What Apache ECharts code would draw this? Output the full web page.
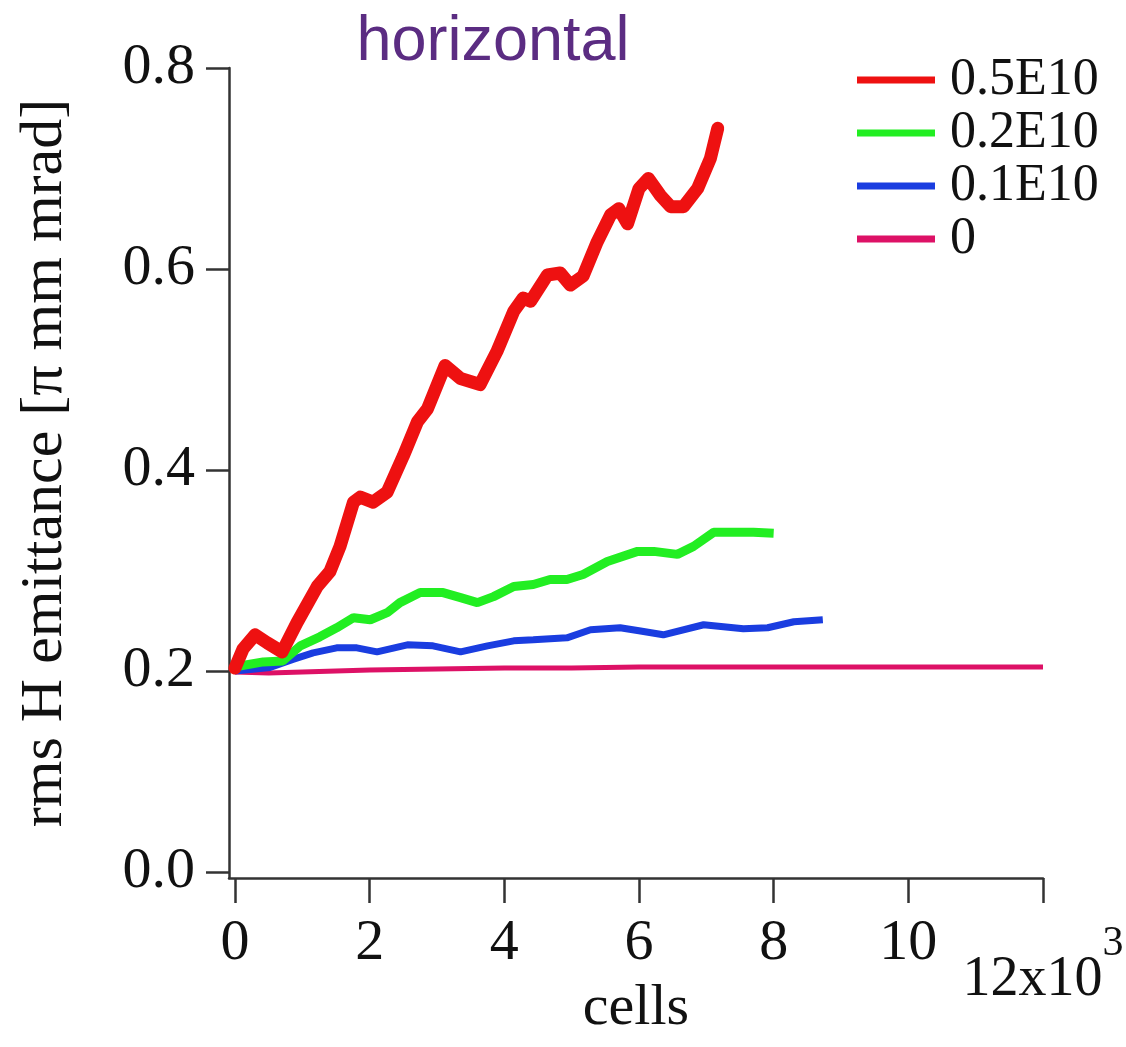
<!DOCTYPE html>
<html>
<head>
<meta charset="utf-8">
<script src="https://cdn.jsdelivr.net/npm/echarts@6/dist/echarts.min.js"></script>
<style>html,body{margin:0;padding:0;background:#fff;}#chart{width:1126px;height:1047px;}</style>
</head>
<body>
<div id="chart"></div>
<script>
// x values in units of 10^3 cells
var redX   = [0,0.12,0.30,0.48,0.70,0.92,1.22,1.41,1.56,1.76,1.86,2.05,2.26,2.50,2.71,2.86,3.12,3.35,3.64,3.89,4.14,4.28,4.39,4.64,4.83,4.98,5.17,5.38,5.58,5.70,5.83,6.00,6.14,6.32,6.47,6.66,6.87,7.06,7.17];
var redY   = [0.203,0.222,0.236,0.228,0.219,0.248,0.284,0.299,0.324,0.368,0.373,0.368,0.378,0.414,0.448,0.461,0.504,0.491,0.485,0.518,0.558,0.571,0.568,0.594,0.596,0.584,0.593,0.627,0.654,0.660,0.645,0.680,0.690,0.673,0.662,0.662,0.680,0.710,0.740];
var greenX = [0,0.07,0.42,0.71,0.97,1.26,1.51,1.76,2.01,2.26,2.45,2.75,3.09,3.35,3.60,3.84,4.14,4.43,4.68,4.93,5.17,5.53,5.98,6.22,6.57,6.81,7.11,7.41,7.70,8.00];
var greenY = [0.202,0.205,0.209,0.210,0.225,0.234,0.243,0.253,0.251,0.258,0.268,0.278,0.278,0.273,0.268,0.274,0.284,0.286,0.291,0.291,0.296,0.309,0.319,0.319,0.316,0.324,0.338,0.338,0.338,0.337];
var blueX  = [0,0.52,0.86,1.16,1.51,1.81,2.11,2.56,2.94,3.35,3.75,4.14,4.43,4.93,5.28,5.72,6.00,6.36,6.96,7.55,7.91,8.30,8.73];
var blueY  = [0.200,0.2035,0.2115,0.218,0.223,0.223,0.219,0.226,0.225,0.219,0.225,0.230,0.231,0.233,0.241,0.243,0.240,0.236,0.246,0.242,0.243,0.249,0.251];
var pinkX  = [0,0.5,1,2,3,4,5,6,7,8,9,10,11,12];
var pinkY  = [0.199,0.198,0.199,0.201,0.202,0.203,0.203,0.204,0.204,0.204,0.204,0.204,0.204,0.204];
var seriesNames = ['0.5E10','0.2E10','0.1E10','0'];
var xTicks = [0,2,4,6,8,10,12];
var yTicks = [0,0.2,0.4,0.6,0.8];

function zip(xs, ys){ return xs.map(function(x,i){ return [x, ys[i]]; }); }

var serif = '"Liberation Serif","DejaVu Serif",serif';
var chart = echarts.init(document.getElementById('chart'));
chart.setOption({
  backgroundColor: '#fff',
  animation: false,
  title: {
    text: 'horizontal',
    left: 488, top: 6, textAlign: 'center',
    textStyle: { fontFamily: '"Liberation Sans",Arial,sans-serif', fontSize: 63, fontWeight: 'normal', color: '#5b2c82' }
  },
  legend: {
    orient: 'vertical', left: 852, top: 49,
    itemWidth: 78, itemHeight: 7, itemGap: 1,
    icon: 'rect',
    data: seriesNames,
    textStyle: { fontFamily: serif, fontSize: 52, lineHeight: 52, color: '#111', padding: [0,0,0,10] }
  },
  grid: { left: 229, right: 83, top: 68, bottom: 169, containLabel: false, outerBoundsMode: 'none' },
  xAxis: {
    type: 'value', min: -0.089, max: 12,
    name: 'cells', nameLocation: 'middle', nameGap: 102, nameMoveOverlap: false,
    nameTextStyle: { fontFamily: serif, fontSize: 58, color: '#111' },
    axisLine: { show: true, onZero: false, lineStyle: { color: '#333', width: 2.5 } },
    axisTick: { show: true, length: 25, customValues: xTicks, lineStyle: { color: '#333', width: 2.5 } },
    axisLabel: {
      customValues: xTicks, margin: 37, color: '#111', fontFamily: serif, fontSize: 58,
      formatter: function(v){ return v === 12 ? '{big|12x10}{sup|3}' : String(v); },
      rich: {
        big: { fontFamily: serif, fontSize: 56, color: '#111', padding: [37,0,0,0] },
        sup: { fontFamily: serif, fontSize: 42, color: '#111', verticalAlign: 'top', padding: [8,0,0,0] }
      }
    },
    splitLine: { show: false }
  },
  yAxis: {
    type: 'value', min: -0.006, max: 0.8,
    name: 'rms H emittance [π mm mrad]', nameLocation: 'middle', nameGap: 154, nameRotate: 90, nameMoveOverlap: false,
    nameTextStyle: { fontFamily: serif, fontSize: 60, color: '#111', padding: [0,0,0,20] },
    axisLine: { show: true, onZero: false, lineStyle: { color: '#333', width: 2.5 } },
    axisTick: { show: true, length: 23, customValues: yTicks, lineStyle: { color: '#333', width: 2.5 } },
    axisLabel: {
      customValues: yTicks, margin: 34, color: '#111', fontFamily: serif, fontSize: 58,
      formatter: function(v){ return v.toFixed(1); }
    },
    splitLine: { show: false }
  },
  series: [
    { name: '0', type: 'line', data: zip(pinkX, pinkY), showSymbol: false, symbol: 'none', color: '#dd1166', lineStyle: { width: 5 }, z: 1 },
    { name: '0.1E10', type: 'line', data: zip(blueX, blueY), showSymbol: false, symbol: 'none', color: '#1a3de0', lineStyle: { width: 7 }, z: 2 },
    { name: '0.2E10', type: 'line', data: zip(greenX, greenY), showSymbol: false, symbol: 'none', color: '#22ee22', lineStyle: { width: 9 }, z: 3 },
    { name: '0.5E10', type: 'line', data: zip(redX, redY), showSymbol: false, symbol: 'none', color: '#ee1111', lineStyle: { width: 13, join: 'round', cap: 'round' }, z: 4 }
  ]
});
</script>
</body>
</html>
